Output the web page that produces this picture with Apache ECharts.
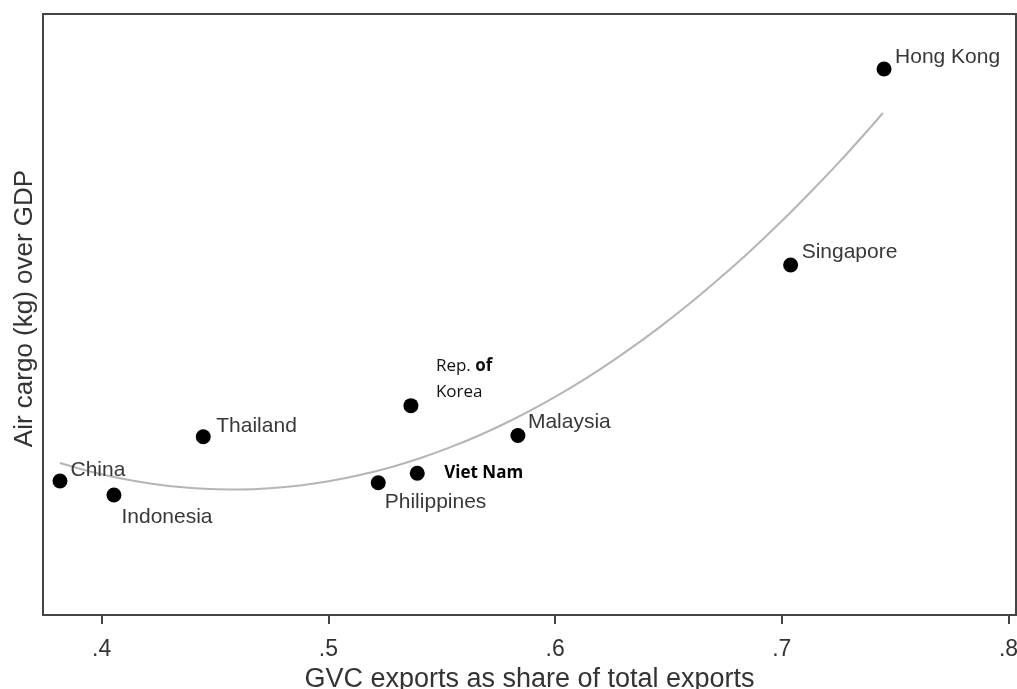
<!DOCTYPE html>
<html>
<head>
<meta charset="utf-8">
<script src="https://cdn.jsdelivr.net/npm/echarts@6/dist/echarts.min.js"></script>
<style>
  html, body { margin: 0; padding: 0; background: #ffffff; }
  #chart { width: 1017px; height: 689px; }
</style>
</head>
<body>
<div id="chart"></div>
<script>
// ---- Data (y units are arbitrary, axis is unlabelled) ----
const countries = ["China", "Indonesia", "Thailand", "Philippines", "Viet Nam", "Rep. of Korea", "Malaysia", "Singapore", "Hong Kong"];
const gvcShare  = [0.3816, 0.4054, 0.4448, 0.5220, 0.5392, 0.5364, 0.5836, 0.7039, 0.7451];
const airCargo  = [22.30, 19.97, 29.67, 22.01, 23.58, 34.83, 29.87, 58.24, 90.85];

// quadratic-fit curve
const fitX = [0.3816, 0.3948, 0.4081, 0.4213, 0.4345, 0.4478, 0.4610, 0.4742, 0.4875, 0.5007, 0.5139, 0.5272, 0.5404, 0.5536, 0.5669,
              0.5801, 0.5933, 0.6066, 0.6198, 0.6330, 0.6463, 0.6595, 0.6727, 0.6860, 0.6992, 0.7124, 0.7257, 0.7389, 0.7446];
const fitY = [25.29, 23.89, 22.76, 21.89, 21.29, 20.96, 20.89, 21.09, 21.56, 22.29, 23.29, 24.55, 26.08, 27.88, 29.95,
              32.28, 34.88, 37.74, 40.87, 44.27, 47.94, 51.87, 56.07, 60.53, 65.26, 70.26, 75.52, 81.05, 83.53];

const xTicks = [0.4, 0.5, 0.6, 0.7, 0.8];
const xTitle = "GVC exports as share of total exports";
const yTitle = "Air cargo (kg) over GDP";

// ---- Label placement (styling, kept separate from data) ----
const labelPos = {
  "China":         [18, -3.5],
  "Indonesia":     [15, 29.5],
  "Thailand":      [20.5, -2.5],
  "Philippines":   [14, 26.5],
  "Viet Nam":      [34.5, 7.5],
  "Rep. of Korea": [32.5, -19],
  "Malaysia":      [17.5, -5.5],
  "Singapore":     [18.5, -5],
  "Hong Kong":     [18.5, -4]
};

const baseLabel = {
  show: true,
  align: 'left',
  verticalAlign: 'middle',
  fontFamily: 'Liberation Sans, Arial, sans-serif',
  fontSize: 21,
  color: '#383838',
  opacity: 1
};

const scatterData = countries.map((name, i) => {
  let label = Object.assign({}, baseLabel, { position: labelPos[name], formatter: name });
  if (name === "Viet Nam") {
    label = Object.assign(label, { fontFamily: 'Open Sans, sans-serif', fontWeight: 'bold', fontSize: 17, color: '#000' });
  } else if (name === "Rep. of Korea") {
    label = Object.assign(label, {
      fontFamily: 'Open Sans, sans-serif', fontSize: 17, color: '#111', lineHeight: 26,
      formatter: 'Rep. {b|of}\nKorea',
      rich: { b: { fontFamily: 'Open Sans, sans-serif', fontSize: 17, fontWeight: 'bold', color: '#111', lineHeight: 26 } }
    });
  }
  return { name: name, value: [gvcShare[i], airCargo[i]], label: label };
});

const fitData = fitX.map((x, i) => [x, fitY[i]]);

const chart = echarts.init(document.getElementById('chart'), null, { renderer: 'canvas' });
chart.setOption({
  animation: false,
  backgroundColor: '#ffffff',
  grid: {
    left: 43, right: 1, top: 14, bottom: 74,
    show: true, borderColor: '#444', borderWidth: 2,
    containLabel: false, outerBoundsMode: 'none'
  },
  xAxis: {
    type: 'value',
    min: 0.37411,
    max: 0.80331,
    splitLine: { show: false },
    axisLine: { show: true, onZero: false, lineStyle: { color: '#444', width: 2 } },
    axisTick: { show: true, length: 9, customValues: xTicks, lineStyle: { color: '#444', width: 2 } },
    axisLabel: {
      customValues: xTicks,
      margin: 23,
      fontFamily: 'Liberation Sans, Arial, sans-serif',
      fontSize: 23,
      color: '#333',
      formatter: v => v.toFixed(1).replace(/^0\./, '.')
    },
    name: xTitle,
    nameLocation: 'middle',
    nameGap: 44,
    nameTextStyle: { fontFamily: 'Liberation Sans, Arial, sans-serif', fontSize: 27, color: '#333' }
  },
  yAxis: {
    type: 'value',
    min: 0,
    max: 100,
    splitLine: { show: false },
    axisLine: { show: true, onZero: false, lineStyle: { color: '#444', width: 2 } },
    axisTick: { show: false },
    axisLabel: { show: false },
    name: yTitle,
    nameLocation: 'middle',
    nameGap: 5,
    nameTextStyle: { fontFamily: 'Liberation Sans, Arial, sans-serif', fontSize: 26, color: '#333', padding: [0, 0, 0, 12] }
  },
  series: [
    {
      type: 'line',
      data: fitData,
      smooth: 0.3,
      showSymbol: false,
      symbol: 'none',
      lineStyle: { color: '#b5b5b5', width: 2 },
      z: 1,
      silent: true
    },
    {
      type: 'scatter',
      data: scatterData,
      symbol: 'circle',
      symbolSize: 15,
      itemStyle: { color: '#000000', opacity: 1 },
      z: 3
    }
  ]
});
</script>
</body>
</html>
